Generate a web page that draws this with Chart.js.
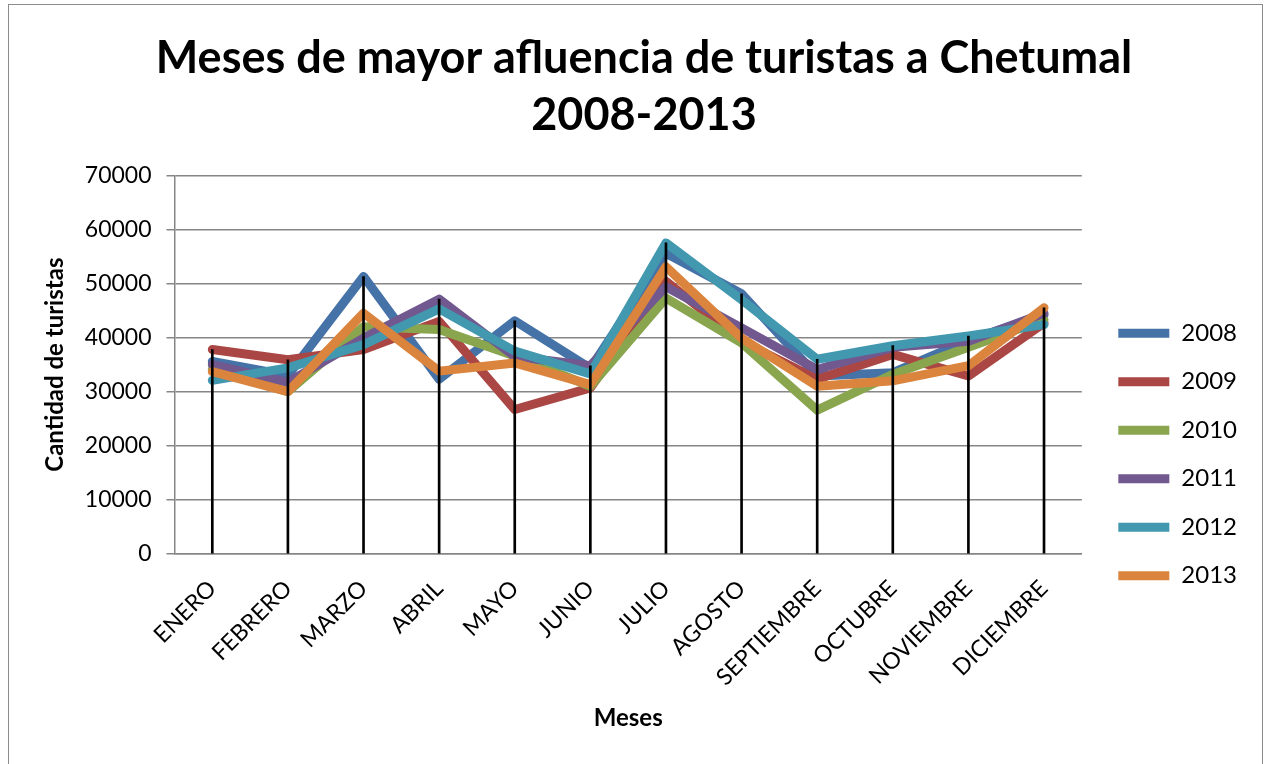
<!DOCTYPE html>
<html>
<head>
<meta charset="utf-8">
<script src="https://cdn.jsdelivr.net/npm/chart.js@4.4.1/dist/chart.umd.min.js"></script>
<style>
	body { margin: 0; background: #fff; }
	#wrap { position: relative; width: 1264px; height: 764px; }
	#frame { position: absolute; left: 8px; top: 4px; width: 1253px; height: 780px; border: 1px solid #8c8c8c; }
	canvas { position: absolute; left: 0; top: 0; }
</style>
</head>
<body>
<div id="wrap">
	<div id="frame"></div>
	<canvas id="chart" width="1264" height="764"></canvas>
</div>
<script>
// Datos
const meses = ["ENERO", "FEBRERO", "MARZO", "ABRIL", "MAYO", "JUNIO", "JULIO", "AGOSTO", "SEPTIEMBRE", "OCTUBRE", "NOVIEMBRE", "DICIEMBRE"];
const anios = ["2008", "2009", "2010", "2011", "2012", "2013"];
const y2008 = [35600, 33000, 51300, 32300, 43100, 34300, 55600, 48100, 32900, 33500, 39500, 44200];
const y2009 = [37800, 35900, 37800, 43000, 26700, 30700, 50400, 39300, 32300, 36900, 32900, 42700];
const y2010 = [34100, 30000, 42000, 41500, 36600, 31000, 47300, 39000, 26600, 33200, 38200, 43300];
const y2011 = [35000, 31700, 39900, 47100, 36500, 34800, 49400, 41800, 34100, 38200, 39300, 44500];
const y2012 = [32100, 34400, 38700, 45300, 37500, 33300, 57500, 47000, 36000, 38500, 40300, 42400];
const y2013 = [33700, 30000, 44500, 33800, 35300, 31300, 53100, 39900, 31000, 32000, 34800, 45500];
const yTicks = [0, 10000, 20000, 30000, 40000, 50000, 60000, 70000];

const series = [y2008, y2009, y2010, y2011, y2012, y2013];
const colores = ["#4572A7", "#AA4643", "#89A54E", "#71588F", "#4198AF", "#DB843D"];

// lineas de caida: del valor mas alto de cada mes hasta el eje
const maximos = meses.map((m, i) => Math.max(...series.map((s) => s[i])));

const FONT = "Lato, 'Open Sans', sans-serif";

const datasets = series.map((s, k) => ({
	type: "line",
	label: anios[k],
	data: s,
	borderColor: colores[k],
	backgroundColor: colores[k],
	borderWidth: 9,
	borderCapStyle: "round",
	borderJoinStyle: "round",
	tension: 0,
	pointRadius: 0,
	fill: false,
	order: 6 - k,
}));
datasets.push({
	type: "bar",
	label: "drop",
	data: maximos,
	backgroundColor: "#000",
	barThickness: 2,
	order: 0,
});

new Chart(document.getElementById("chart"), {
	type: "line",
	data: { labels: meses, datasets: datasets },
	options: {
		responsive: false,
		animation: false,
		layout: { padding: { left: 41, right: 17, top: 4, bottom: 27 } },
		plugins: {
			title: {
				display: true,
				text: ["Meses de mayor afluencia de turistas a Chetumal", "2008-2013"],
				color: "#000",
				font: { family: FONT, size: 45, weight: "bold", lineHeight: 1.27 },
				padding: { top: 26, bottom: 31 },
			},
			legend: {
				position: "right",
				title: {
					display: true,
					text: " ",
					font: { size: 10 },
					padding: { top: 156, bottom: 0 },
				},
				labels: {
					usePointStyle: true,
					pointStyle: "line",
					pointStyleWidth: 51,
					color: "#000",
					font: { family: FONT, size: 24 },
					padding: 24.5,
					filter: (item) => item.text != "drop",
					sort: (a, b) => a.datasetIndex - b.datasetIndex,
				},
			},
			tooltip: { enabled: false },
		},
		scales: {
			x: {
				offset: true,
				grid: { display: false },
				border: { display: true, color: "#868686", width: 1.5 },
				ticks: {
					color: "#000",
					font: { family: FONT, size: 23 },
					minRotation: 45,
					maxRotation: 45,
					padding: 13,
				},
				title: {
					display: true,
					text: "Meses",
					color: "#000",
					font: { family: FONT, size: 24, weight: "bold" },
					padding: { top: 0 },
				},
			},
			y: {
				min: 0,
				max: 70000,
				afterBuildTicks: (axis) => {
					axis.ticks = yTicks.map((v) => ({ value: v }));
				},
				grid: { color: "#868686", lineWidth: 1.5, tickLength: 8 },
				border: { display: true, color: "#868686", width: 1.5 },
				ticks: {
					color: "#000",
					font: { family: FONT, size: 23 },
					padding: 15,
					callback: (v) => String(v),
				},
				title: {
					display: true,
					text: "Cantidad de turistas",
					color: "#000",
					font: { family: FONT, size: 24, weight: "bold" },
					padding: { top: 0, bottom: 0 },
				},
			},
			// hueco entre el area del grafico y la leyenda
			gap: {
				type: "linear",
				position: "right",
				grid: { display: false },
				border: { display: false },
				ticks: { display: false },
				afterFit: (scale) => {
					scale.width = 12;
				},
			},
		},
	},
});
</script>
</body>
</html>
